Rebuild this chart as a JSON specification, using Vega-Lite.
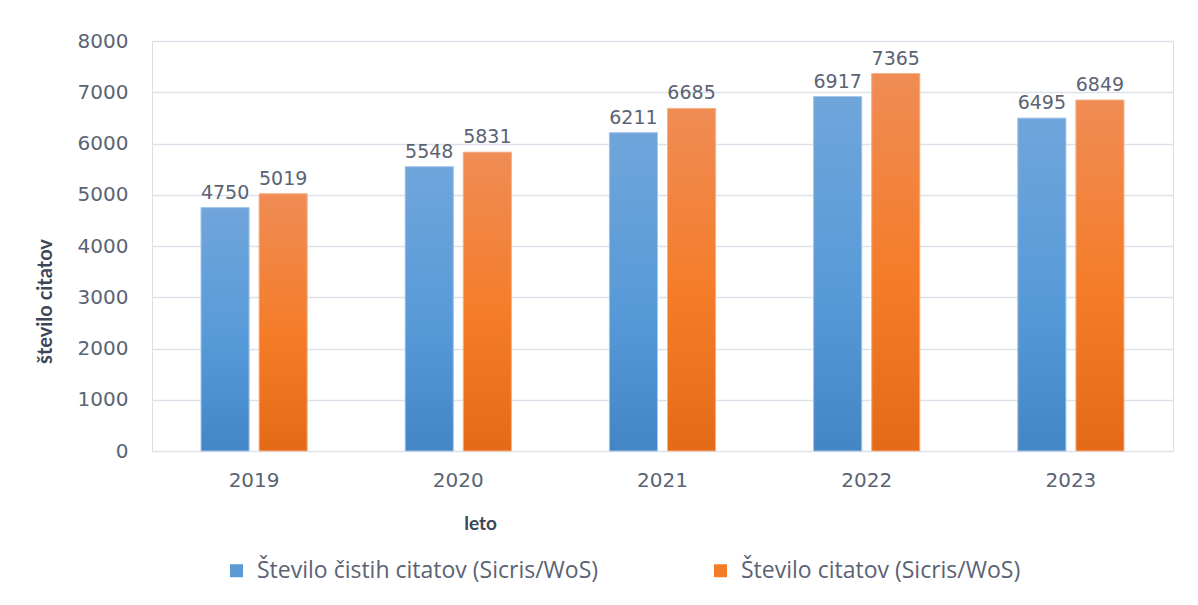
{
  "$schema": "https://vega.github.io/schema/vega-lite/v6.json",
  "width": 1021,
  "height": 410,
  "autosize": {"type": "none"},
  "padding": {"left": 152, "top": 41, "right": 25, "bottom": 154},
  "background": "white",
  "data": {
    "values": [
      {"leto": "2019", "serija": "Število čistih citatov (Sicris/WoS)", "vrednost": 4750},
      {"leto": "2019", "serija": "Število citatov (Sicris/WoS)", "vrednost": 5019},
      {"leto": "2020", "serija": "Število čistih citatov (Sicris/WoS)", "vrednost": 5548},
      {"leto": "2020", "serija": "Število citatov (Sicris/WoS)", "vrednost": 5831},
      {"leto": "2021", "serija": "Število čistih citatov (Sicris/WoS)", "vrednost": 6211},
      {"leto": "2021", "serija": "Število citatov (Sicris/WoS)", "vrednost": 6685},
      {"leto": "2022", "serija": "Število čistih citatov (Sicris/WoS)", "vrednost": 6917},
      {"leto": "2022", "serija": "Število citatov (Sicris/WoS)", "vrednost": 7365},
      {"leto": "2023", "serija": "Število čistih citatov (Sicris/WoS)", "vrednost": 6495},
      {"leto": "2023", "serija": "Število citatov (Sicris/WoS)", "vrednost": 6849}
    ]
  },
  "encoding": {
    "x": {
      "field": "leto", "type": "nominal",
      "scale": {"paddingInner": 0.48, "paddingOuter": 0.24},
      "axis": {
        "title": "leto", "labelAngle": 0, "domain": false, "ticks": false,
        "labelPadding": 19, "labelFontSize": 20, "labelFont": "DejaVu Sans", "labelColor": "#5a6373",
        "titleFont": "Lato", "titleFontSize": 19, "titleFontWeight": "bold", "titleColor": "#3d4656",
        "titleX": 328, "titlePadding": 24
      }
    },
    "xOffset": {
      "field": "serija", "type": "nominal",
      "sort": ["Število čistih citatov (Sicris/WoS)", "Število citatov (Sicris/WoS)"],
      "scale": {"paddingInner": 0.172, "paddingOuter": 0}
    },
    "y": {
      "field": "vrednost", "type": "quantitative",
      "scale": {"domain": [0, 8000], "nice": false},
      "axis": {
        "title": "število citatov", "values": [0,1000,2000,3000,4000,5000,6000,7000,8000],
        "format": "d",
        "domain": false, "ticks": false, "labelPadding": 24,
        "labelFontSize": 20, "labelFont": "DejaVu Sans", "labelColor": "#5a6373",
        "grid": true, "gridColor": "#dde2ea", "gridWidth": 1.5,
        "titleFont": "Lato", "titleFontSize": 20, "titleFontWeight": "bold", "titleColor": "#3d4656",
        "titleY": 260, "titlePadding": 22
      }
    }
  },
  "layer": [
    {
      "mark": {"type": "bar", "stroke": null},
      "encoding": {
        "color": {
          "field": "serija", "type": "nominal",
          "scale": {
            "domain": ["Število čistih citatov (Sicris/WoS)", "Število citatov (Sicris/WoS)"],
            "range": ["#5b9bd5", "#f27c28"]
          },
          "legend": {
            "title": null, "orient": "none", "direction": "horizontal",
            "legendX": 73, "legendY": 518,
            "symbolType": "square", "symbolSize": 169, "symbolStrokeWidth": 0,
            "labelFont": "Open Sans", "labelFontSize": 23, "labelColor": "#5a6373", "labelLimit": 0,
            "labelOffset": 9, "columnPadding": 110
          }
        }
      }
    },
    {
      "transform": [{"filter": "datum.serija == 'Število čistih citatov (Sicris/WoS)'"}],
      "mark": {
        "type": "bar", "stroke": "#a6c6ea", "strokeWidth": 1,
        "fill": {
          "gradient": "linear", "x1": 0, "y1": 0, "x2": 0, "y2": 1,
          "stops": [
            {"offset": 0, "color": "#70a5db"},
            {"offset": 0.55, "color": "#579ad8"},
            {"offset": 1, "color": "#4286c6"}
          ]
        }
      }
    },
    {
      "transform": [{"filter": "datum.serija == 'Število citatov (Sicris/WoS)'"}],
      "mark": {
        "type": "bar", "stroke": "#f6b58c", "strokeWidth": 1,
        "fill": {
          "gradient": "linear", "x1": 0, "y1": 0, "x2": 0, "y2": 1,
          "stops": [
            {"offset": 0, "color": "#f08c55"},
            {"offset": 0.55, "color": "#f47c28"},
            {"offset": 1, "color": "#e46a17"}
          ]
        }
      }
    },
    {
      "mark": {"type": "text", "baseline": "bottom", "dy": -5, "font": "DejaVu Sans", "fontSize": 19, "color": "#5a6373"},
      "encoding": {"text": {"field": "vrednost", "type": "quantitative"}}
    }
  ]
}
